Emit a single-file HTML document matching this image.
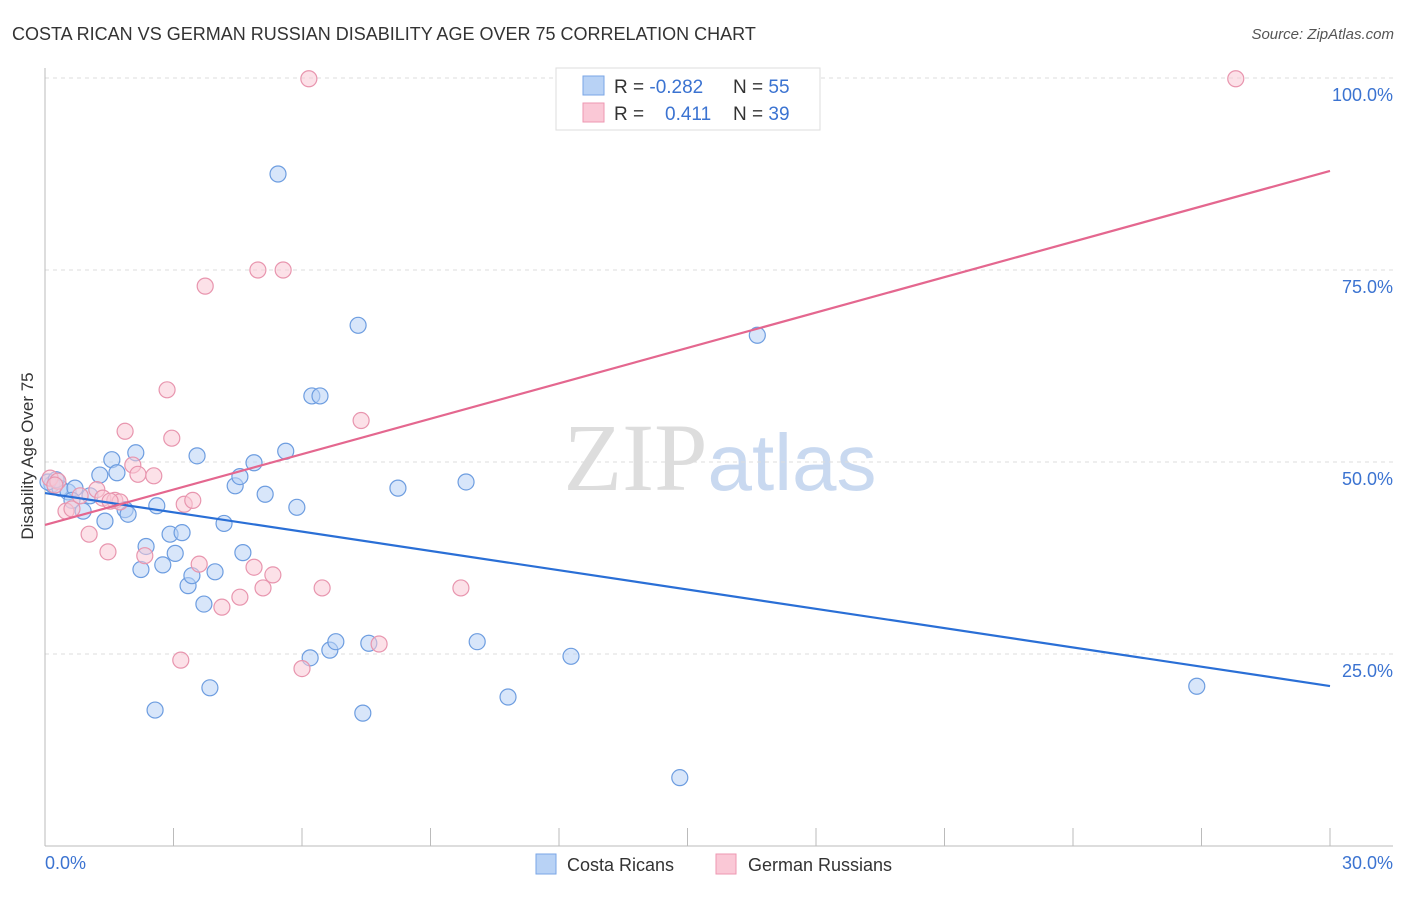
<!DOCTYPE html>
<html><head><meta charset="utf-8"><style>
body{margin:0;background:#fff;font-family:"Liberation Sans",sans-serif}
</style></head><body>
<svg id="chart" width="1406" height="892" xmlns="http://www.w3.org/2000/svg" font-family="Liberation Sans, sans-serif">
<text x="12" y="40" font-size="18" fill="#333">COSTA RICAN VS GERMAN RUSSIAN DISABILITY AGE OVER 75 CORRELATION CHART</text>
<text x="1394" y="39" font-size="15" fill="#555" font-style="italic" text-anchor="end">Source: ZipAtlas.com</text>
<text x="720" y="490" font-size="96" text-anchor="middle" fill="#ddd" font-family="Liberation Serif, serif">ZIP<tspan fill="#c9d9f0" font-family="Liberation Sans, sans-serif" font-size="80">atlas</tspan></text>
<g id="grid"></g><g id="axes"></g><g id="pts"></g><g id="trend"></g>
<text transform="translate(33,456) rotate(-90)" font-size="17" fill="#333" text-anchor="middle">Disability Age Over 75</text>
<text x="45" y="869" font-size="18" fill="#3b73d1">0.0%</text>
<text x="1393" y="869" font-size="18" fill="#3b73d1" text-anchor="end">30.0%</text>
<g>
<rect x="556" y="68" width="264" height="62" fill="#fff" stroke="#ddd"/>
<rect x="583" y="76" width="21" height="19" fill="#b8d2f5" stroke="#7aa6e6"/>
<rect x="583" y="103" width="21" height="19" fill="#fac8d6" stroke="#ee97b2"/>
<text x="614" y="93" font-size="19" fill="#333">R = <tspan fill="#3b73d1">-0.282</tspan><tspan x="733">N = </tspan><tspan fill="#3b73d1">55</tspan></text>
<text x="614" y="120" font-size="19" fill="#333">R = <tspan x="665" fill="#3b73d1">0.411</tspan><tspan x="733">N = </tspan><tspan fill="#3b73d1">39</tspan></text>
</g>
<g>
<rect x="536" y="854" width="20" height="20" fill="#b8d2f5" stroke="#7aa6e6"/>
<text x="567" y="871" font-size="18" fill="#333">Costa Ricans</text>
<rect x="716" y="854" width="20" height="20" fill="#fac8d6" stroke="#ee97b2"/>
<text x="748" y="871" font-size="18" fill="#333">German Russians</text>
</g>
</svg>
<script>
const yTicks=[25,50,75,100];
const yTickLabels=["25.0%","50.0%","75.0%","100.0%"];
const blueX=[0.16,0.35,0.54,0.7,0.63,0.89,1.05,1.28,1.4,1.56,1.68,1.87,1.94,2.12,2.24,2.36,2.57,2.61,2.75,2.92,3.04,3.2,3.34,3.43,3.55,3.71,3.85,3.97,4.18,4.44,4.55,4.62,4.88,5.14,5.44,5.62,5.88,6.19,6.23,6.42,6.65,6.79,7.31,7.42,7.56,8.24,9.83,10.09,10.81,12.28,14.82,16.63,26.89,0.07,0.26];
const blueY=[47.1,46.6,46.1,46.6,45,43.6,45.6,48.3,42.3,50.3,48.6,43.8,43.2,51.2,36,39,17.7,44.3,36.6,40.6,38.1,40.8,33.9,35.2,50.8,31.5,20.6,35.7,42,46.9,48.1,38.2,49.9,45.8,87.5,51.4,44.1,24.5,58.6,58.6,25.5,26.6,67.8,17.3,26.4,46.6,47.4,26.6,19.4,24.7,8.9,66.5,20.8,47.4,47.7];
const pinkX=[0.12,0.3,0.49,0.63,1.03,1.21,1.35,1.47,1.63,1.75,1.87,2.05,2.17,2.33,2.54,2.85,2.96,3.17,3.25,3.45,3.6,3.74,4.13,4.55,4.88,4.97,5.09,5.32,5.56,6,6.16,6.47,7.38,7.8,9.71,27.8,0.23,0.82,1.52];
const pinkY=[47.9,47.5,43.6,43.9,40.6,46.4,45.3,38.3,45,44.8,54,49.6,48.4,37.8,48.2,59.4,53.1,24.2,44.5,45,36.7,72.9,31.1,32.4,36.3,75,33.6,35.3,75,23.1,99.9,33.6,55.4,26.3,33.6,99.9,47,45.6,44.9];
const blueTrend=[45.96,20.83];
const pinkTrend=[41.8,87.9];
const X0=45,X1=1330,Y0=846,PXY=7.68;
const sx=v=>X0+v/30*(X1-X0), sy=v=>Y0-v*PXY;
const NS="http://www.w3.org/2000/svg";
function mk(p,t,a){const e=document.createElementNS(NS,t);for(const k in a)e.setAttribute(k,a[k]);document.getElementById(p).appendChild(e);return e;}
yTicks.forEach((t,i)=>{
 const l=mk('grid','line',{x1:45,x2:1393,y1:sy(t),y2:sy(t),stroke:'#ddd','stroke-dasharray':'4,4'});
 
 
 const tx=mk('grid','text',{x:1393,y:sy(t)+23,'font-size':18,fill:'#3b73d1','text-anchor':'end'});
 tx.textContent=yTickLabels[i];
 
 
});
let a=mk('axes','line',{x1:45,x2:45,y1:68,y2:846,stroke:'#bbb'});

a=mk('axes','line',{x1:45,x2:1393,y1:846,y2:846,stroke:'#bbb'});

for(let i=0;i<=10;i++){const t=mk('axes','line',{x1:sx(i*3),x2:sx(i*3),y1:828,y2:846,stroke:'#bbb'});
 }
function pts(xs,ys,f,s,n){xs.forEach((x,i)=>{const c=mk('pts','circle',{cx:sx(x),cy:sy(ys[i]),r:8,fill:f,'fill-opacity':0.55,stroke:s,'stroke-width':1.2});
 });}
pts(blueX,blueY,'#b8d2f5','#6d9de0','costa-rican-point');
pts(pinkX,pinkY,'#fac8d6','#e895ae','german-russian-point');
let tl=mk('trend','line',{x1:sx(0),x2:sx(30),y1:sy(blueTrend[0]),y2:sy(blueTrend[1]),stroke:'#2a6fd6','stroke-width':2.2});

tl=mk('trend','line',{x1:sx(0),x2:sx(30),y1:sy(pinkTrend[0]),y2:sy(pinkTrend[1]),stroke:'#e4678f','stroke-width':2.2});

</script>
</body></html>
